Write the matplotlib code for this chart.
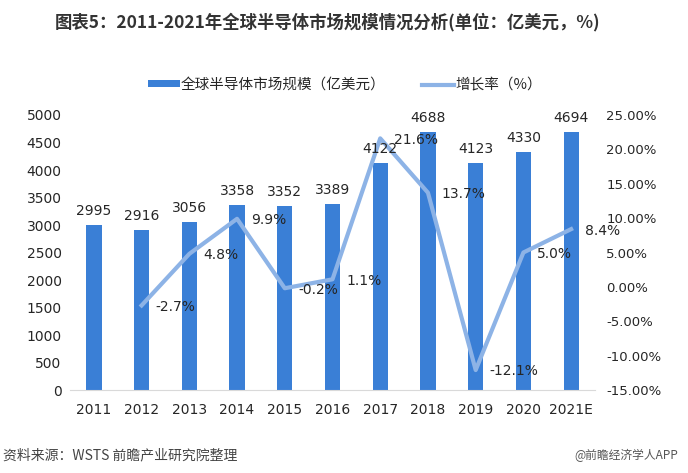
import matplotlib
matplotlib.use("Agg")
import matplotlib.pyplot as plt
from matplotlib.lines import Line2D
from matplotlib.patches import Patch
import numpy as np

plt.rcParams['font.family'] = ['DejaVu Sans', 'Noto Sans CJK SC']

years = ["2011", "2012", "2013", "2014", "2015", "2016", "2017", "2018", "2019", "2020", "2021E"]
market = [2995, 2916, 3056, 3358, 3352, 3389, 4122, 4688, 4123, 4330, 4694]
growth = [np.nan, -2.7, 4.8, 9.9, -0.2, 1.1, 21.6, 13.7, -12.1, 5.0, 8.4]
left_ticks = [0, 500, 1000, 1500, 2000, 2500, 3000, 3500, 4000, 4500, 5000]
right_ticks = [-15, -10, -5, 0, 5, 10, 15, 20, 25]

title = "图表5：2011-2021年全球半导体市场规模情况分析(单位：亿美元，%)"
bar_name = "全球半导体市场规模（亿美元）"
line_name = "增长率（%）"
source = "资料来源：WSTS 前瞻产业研究院整理"
credit = "@前瞻经济学人APP"

bar_color = "#3a7fd6"
line_color = "#8db3e6"
text_color = "#262626"
cjk = ['Noto Sans CJK SC', 'DejaVu Sans']

fig = plt.figure(figsize=(6.88, 4.73), dpi=100)
ax = fig.add_axes([70/688, 1-390/473, 525/688, 275/473])
ax2 = ax.twinx()

x = np.arange(len(years))
ax.bar(x, market, width=0.32, color=bar_color, zorder=2)
ax.set_xlim(-0.5, len(years)-0.5)
ax.set_ylim(0, 5000)
ax.set_yticks(left_ticks)
ax.set_yticklabels([str(v) for v in left_ticks], fontsize=10, color=text_color)
ax.set_xticks(x)
ax.set_xticklabels(years, fontsize=10, color=text_color)
ax.tick_params(axis='x', length=0, pad=9)
ax.tick_params(axis='y', length=0, pad=6)
for s in ["top", "right", "left"]:
    ax.spines[s].set_visible(False)
ax.spines["bottom"].set_color("#d9d9d9")

ax2.plot(x, growth, color=line_color, linewidth=3, zorder=3)
ax2.set_ylim(-15, 25)
ax2.set_yticks(right_ticks)
ax2.set_yticklabels([f"{v:.2f}%" for v in right_ticks], fontsize=9.5, color=text_color)
ax2.tick_params(axis='y', length=0, pad=8)
for s in ["top", "right", "left", "bottom"]:
    ax2.spines[s].set_visible(False)

# bar value labels drawn on the top axes so they sit above the line
for xi, v in zip(x, market):
    ax2.annotate(str(v), (xi, v), xycoords=ax.transData, xytext=(0, 5), textcoords="offset points",
                 ha="center", va="bottom", fontsize=10, color=text_color, zorder=5)

for xi, g in zip(x, growth):
    if np.isnan(g):
        continue
    ax2.annotate(f"{g:.1f}%", (xi, g), xytext=(10, -1), textcoords="offset points",
                 ha="left", va="center", fontsize=10, color=text_color, zorder=4)

fig.text(328/688, 1-22/473, title, ha="center", va="center", fontsize=12.5,
         fontweight="bold", family=cjk, color="#333333")

handles = [Patch(facecolor=bar_color), Line2D([0], [0], color=line_color, linewidth=3)]
leg = fig.legend(handles, [bar_name, line_name], loc="center", bbox_to_anchor=(345/688, 1-85/473),
                 ncol=2, frameon=False, prop={'family': cjk, 'size': 10.5},
                 handlelength=2.2, handleheight=0.4, handletextpad=0.1, columnspacing=2.5)
for t in leg.get_texts():
    t.set_color(text_color)

fig.text(3/688, 1-455/473, source, ha="left", va="center", fontsize=10, family=cjk, color="#444444")
fig.text(678/688, 1-455/473, credit, ha="right", va="center", fontsize=8.5, family=cjk, color="#555555")

fig.savefig("out.png", dpi=100)
